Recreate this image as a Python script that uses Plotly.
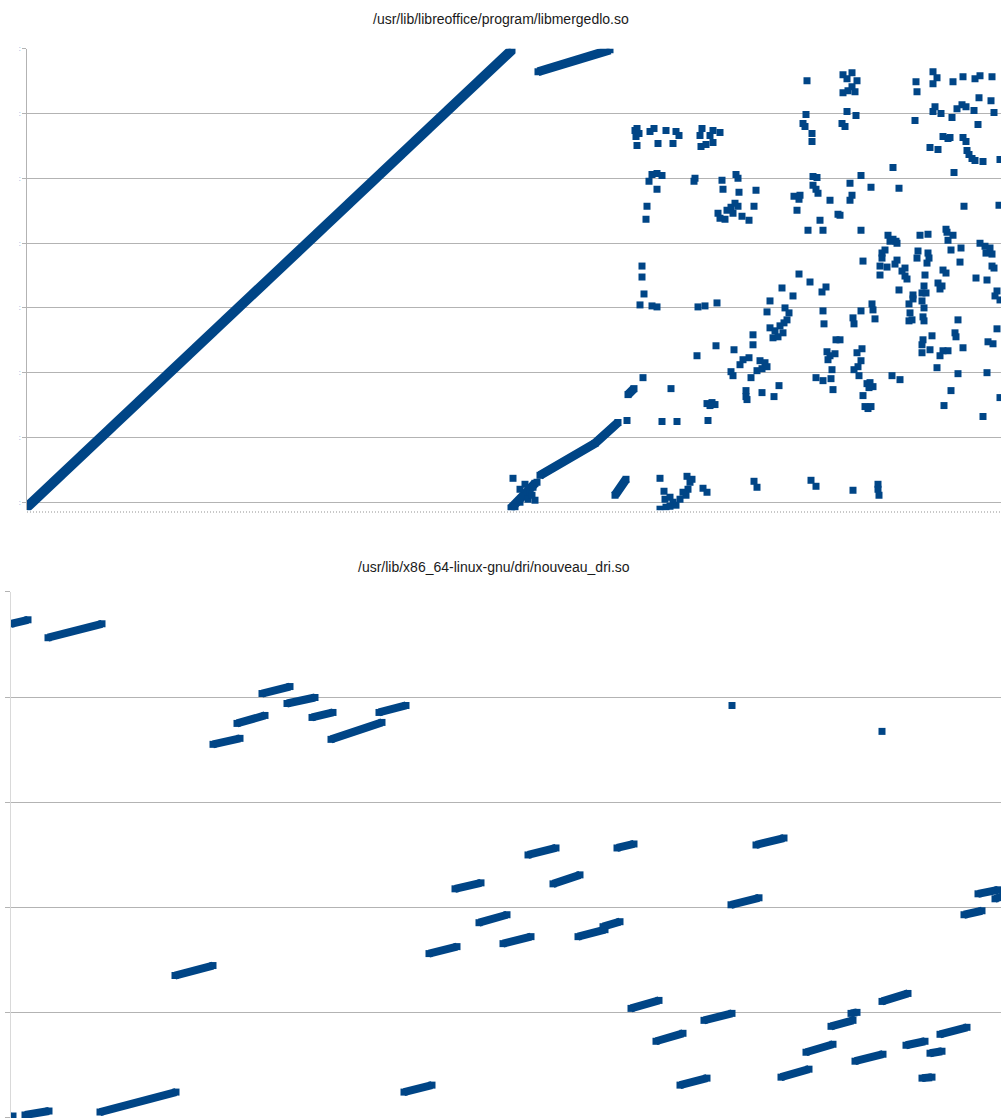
import plotly.graph_objects as go

# ---------------------------------------------------------------------------
# libmergedlo.so : access order (x) vs. file offset (y)
# ---------------------------------------------------------------------------
top_title = "/usr/lib/libreoffice/program/libmergedlo.so"

# continuous runs (polylines through their end / bend points)
top_run_main_x = [0, 485]
top_run_main_y = [-5, 454]
top_runs_x = [[511, 583], [513, 568, 591], [484, 508], [588, 599], [601, 607]]
top_runs_y = [[432, 454], [27, 59, 80], [-6, 19], [7, 23], [108, 114]]

# isolated accesses
top_pts_x = [
    486, 493, 498, 503, 506, 510, 501, 508, 493, 488, 505,
    615, 615, 617, 613, 625, 630, 772, 671, 678, 690, 755, 766, 743, 740,
    758, 762, 760, 757, 743, 748, 753, 746, 751, 756, 726, 726, 689, 670,
    707, 713, 716, 722, 733, 738, 735, 740, 730, 704, 706, 724, 752, 735,
    747, 719, 719, 720, 616, 644, 680, 685, 688, 683, 681, 635, 650, 600,
    633, 637, 638, 643, 646, 653, 659, 661, 663, 660, 665, 649, 643, 633,
    639, 656, 676, 680, 727, 730,
    608, 610, 612, 609, 610, 623, 627, 631, 639, 646, 649, 652, 673, 675,
    674, 679, 683, 686, 686, 693, 625, 630, 635, 622, 630, 620, 619, 668,
    667, 695, 709, 711, 696, 712, 729, 691, 700, 704, 708, 711, 706, 693,
    698, 715, 722, 727, 767, 772, 770,
    780, 816, 825, 820, 830, 825, 828, 816, 821, 779, 776, 778, 785, 785,
    820, 829, 815, 818, 866, 834, 786, 790, 786, 789, 791, 773, 803, 823,
    825, 823, 844, 872, 811, 813, 793, 781, 796, 834, 861, 866, 869, 863,
    893, 901, 919, 920, 921, 926, 906, 910, 906, 889, 890, 926, 936, 948,
    953, 965, 952, 964, 908, 906, 914, 925, 930, 935, 939, 947, 967, 888,
    951, 916, 921, 923, 903, 911, 936, 939, 940, 942, 945, 948, 956, 973,
    927, 937, 972,
    783, 795, 799, 796, 797, 836, 855, 855, 858, 853, 860, 853, 870, 868,
    870, 875, 878, 880, 878, 872, 891, 890, 901, 902, 900, 898, 897, 895,
    899, 886, 886, 882, 895, 897, 883, 885, 882, 896, 897, 911, 915, 913,
    916, 919, 924, 934, 933, 949, 960, 953, 958, 963, 965, 959, 965, 967,
    970, 968, 973, 970, 961, 966, 973, 834, 826, 827, 845, 846, 848, 896,
    895, 895, 905, 903, 916, 921, 913, 910, 928, 929, 931, 936, 931, 924,
    917, 960, 956, 809, 813, 800, 803, 808, 801, 805, 789, 796, 804, 806,
    830, 835, 834, 831, 827, 832, 840, 843, 846, 842, 836, 838, 841, 844,
    865, 873, 784, 789, 826, 851, 851, 852,
]
top_pts_y = [
    24, 13, 18, 10, 15, 20, 3, 2, 0, -5, 7,
    237, 226, 209, 198, 197, 196, 229, 196, 197, 200, 215, 207, 202, 191,
    195, 190, 183, 180, 175, 172, 177, 165, 166, 170, 168, 158, 157, 147,
    153, 138, 143, 145, 142, 140, 134, 136, 132, 131, 127, 125, 117, 110,
    106, 112, 106, 103, 125, 114, 99, 100, 98, 97, 82, 81, 81, 82,
    24, 11, 3, 5, 0, 3, 7, 13, 20, 26, 23, -3, -4, -7,
    -5, 10, 14, 10, 21, 15,
    373, 375, 370, 367, 358, 372, 375, 360, 373, 360, 372, 368, 368, 375,
    357, 359, 368, 373, 361, 371, 329, 330, 328, 322, 314, 297, 284, 325,
    322, 323, 329, 325, 314, 311, 313, 290, 293, 296, 300, 297, 290, 285,
    284, 287, 283, 297, 307, 304, 293,
    423, 429, 431, 425, 423, 417, 412, 411, 413, 389, 380, 377, 370, 362,
    392, 388, 380, 377, 336, 328, 327, 326, 318, 314, 310, 308, 303, 320,
    308, 303, 316, 315, 289, 288, 283, 273, 273, 273, 268, 264, 262, 262,
    268, 269, 274, 271, 263, 268, 432, 426, 420, 422, 412, 422, 427, 425,
    428, 427, 406, 403, 397, 392, 390, 386, 395, 399, 397, 393, 391, 383,
    379, 367, 365, 366, 356, 354, 366, 362, 353, 349, 345, 343, 342, 344,
    331, 297, 298,
    221, 211, 216, 192, 179, 242, 250, 245, 253, 237, 236, 228, 243, 239,
    260, 232, 227, 224, 235, 213, 252, 245, 250, 245, 240, 228, 217, 210,
    210, 208, 204, 199, 202, 195, 190, 183, 182, 186, 182, 220, 217, 214,
    233, 230, 253, 255, 241, 225, 223, 260, 257, 255, 249, 250, 237, 235,
    212, 207, 203, 174, 161, 159, 105, 192, 185, 179, 199, 193, 184, 163,
    158, 150, 167, 153, 152, 152, 147, 135, 170, 166, 183, 155, 129, 112,
    97, 130, 86, 163, 163, 151, 147, 149, 143, 133, 125, 122, 124, 113,
    150, 154, 142, 136, 133, 127, 119, 120, 116, 115, 107, 96, 94, 96,
    127, 123, 22, 16, 12, 18, 13, 7,
]
top_y_ticks = [0, 65, 130, 195, 260, 325, 390, 455]

# ---------------------------------------------------------------------------
# nouveau_dri.so : access order (x) vs. file offset (y)
# ---------------------------------------------------------------------------
bottom_title = "/usr/lib/x86_64-linux-gnu/dri/nouveau_dri.so"

bottom_runs_x = [
    [0, 17], [37, 91], [202, 229], [226, 254], [251, 279], [276, 304],
    [301, 322], [320, 371], [368, 395], [444, 470], [517, 545], [606, 623],
    [542, 569], [468, 496], [418, 446], [492, 520], [567, 594], [592, 609],
    [620, 648], [645, 672], [393, 421], [669, 696], [745, 773], [720, 748],
    [953, 971], [967, 987], [984, 993], [693, 721], [871, 897], [820, 842],
    [840, 846], [795, 822], [770, 798], [844, 872], [895, 914], [929, 956],
    [919, 931], [911, 921], [164, 202], [0, 2], [14, 38], [89, 165],
]
bottom_runs_y = [
    [496, 500], [482, 496], [375, 381], [396, 404], [426, 433], [416, 422],
    [402, 407], [380, 397], [407, 414], [230, 236], [264, 271], [271, 275],
    [235, 244], [196, 204], [165, 172], [175, 182], [182, 189], [192, 197],
    [110, 118], [77, 85], [26, 33], [33, 40], [274, 281], [214, 221],
    [204, 208], [225, 229], [220, 223], [98, 105], [117, 125], [92, 98],
    [105, 106], [66, 74], [41, 49], [57, 64], [73, 77], [84, 91],
    [65, 67], [40, 41], [143, 153], [1, 2], [3, 7], [6, 26],
]
bottom_pts_x = [721, 871]
bottom_pts_y = [414, 388]
bottom_y_ticks = [0, 105.6, 211.2, 316.8, 422.4, 528]

# ---------------------------------------------------------------------------
W, H = 1001, 1118
BLUE = "#004586"
GRID = "#b3b3b3"
FONT = "Liberation Sans, Arial, sans-serif"


def join_runs(xs, ys):
    """Chain several polylines into one trace, separated by gaps."""
    jx, jy = [], []
    for rx, ry in zip(xs, ys):
        jx += list(rx) + [None]
        jy += list(ry) + [None]
    return jx, jy


def run_trace(xs, ys, width, xa, ya):
    return go.Scatter(
        x=xs, y=ys, mode="lines+markers", xaxis=xa, yaxis=ya,
        line=dict(color=BLUE, width=width),
        marker=dict(symbol="square", size=7, color=BLUE, line=dict(width=0)),
        hoverinfo="skip", connectgaps=False,
    )


def point_trace(xs, ys, xa, ya):
    return go.Scatter(
        x=xs, y=ys, mode="markers", xaxis=xa, yaxis=ya,
        marker=dict(symbol="square", size=7, color=BLUE, line=dict(width=0)),
        hoverinfo="skip",
    )


fig = go.Figure()

# top chart
fig.add_trace(run_trace(top_run_main_x, top_run_main_y, 10, "x", "y"))
rx, ry = join_runs(top_runs_x, top_runs_y)
fig.add_trace(run_trace(rx, ry, 9, "x", "y"))
fig.add_trace(point_trace(top_pts_x, top_pts_y, "x", "y"))

# bottom chart
bx, by = join_runs(bottom_runs_x, bottom_runs_y)
fig.add_trace(run_trace(bx, by, 8, "x2", "y2"))
fig.add_trace(point_trace(bottom_pts_x, bottom_pts_y, "x2", "y2"))


def px_x(p):
    return p / W


def px_y(p):
    return 1 - p / H


fig.update_layout(
    width=W, height=H,
    margin=dict(l=0, r=0, t=0, b=0),
    paper_bgcolor="white", plot_bgcolor="white",
    showlegend=False,
    font=dict(family=FONT, size=14, color="#000000"),
    xaxis=dict(
        domain=[px_x(27), 1], range=[0, 974], showgrid=False, zeroline=False,
        showline=False, ticks="outside", ticklen=2, tickwidth=1,
        tickcolor="#c8c8c8", tick0=0, dtick=3, showticklabels=False,
        anchor="y",
    ),
    yaxis=dict(
        domain=[px_y(508), px_y(45)], range=[-8, 455], showgrid=True,
        gridcolor=GRID, gridwidth=1, zeroline=False, showline=True,
        linecolor=GRID, linewidth=1, ticks="outside", ticklen=4,
        tickcolor=GRID, tickmode="array", tickvals=top_y_ticks,
        ticktext=[":"] * len(top_y_ticks),
        tickfont=dict(size=7, color="#5b9bd5", family=FONT),
        anchor="x",
    ),
    xaxis2=dict(
        domain=[px_x(11), 1], range=[0, 990], showgrid=False, zeroline=False,
        showline=False, showticklabels=False, ticks="", anchor="y2",
    ),
    yaxis2=dict(
        domain=[0, px_y(590)], range=[0, 528], showgrid=True,
        gridcolor=GRID, gridwidth=1, zeroline=False, showline=True,
        linecolor="#d9d9d9", linewidth=1, ticks="outside", ticklen=5,
        tickcolor=GRID, tickmode="array", tickvals=bottom_y_ticks,
        showticklabels=False, anchor="x2",
    ),
    annotations=[
        dict(text=top_title, x=px_x(501), y=px_y(15), xref="paper",
             yref="paper", xanchor="center", yanchor="middle",
             showarrow=False, font=dict(size=14, color="#1a1a1a", family=FONT)),
        dict(text=bottom_title, x=px_x(494), y=px_y(565), xref="paper",
             yref="paper", xanchor="center", yanchor="middle",
             showarrow=False, font=dict(size=14, color="#1a1a1a", family=FONT)),
    ],
)

fig.write_html("out.html")
